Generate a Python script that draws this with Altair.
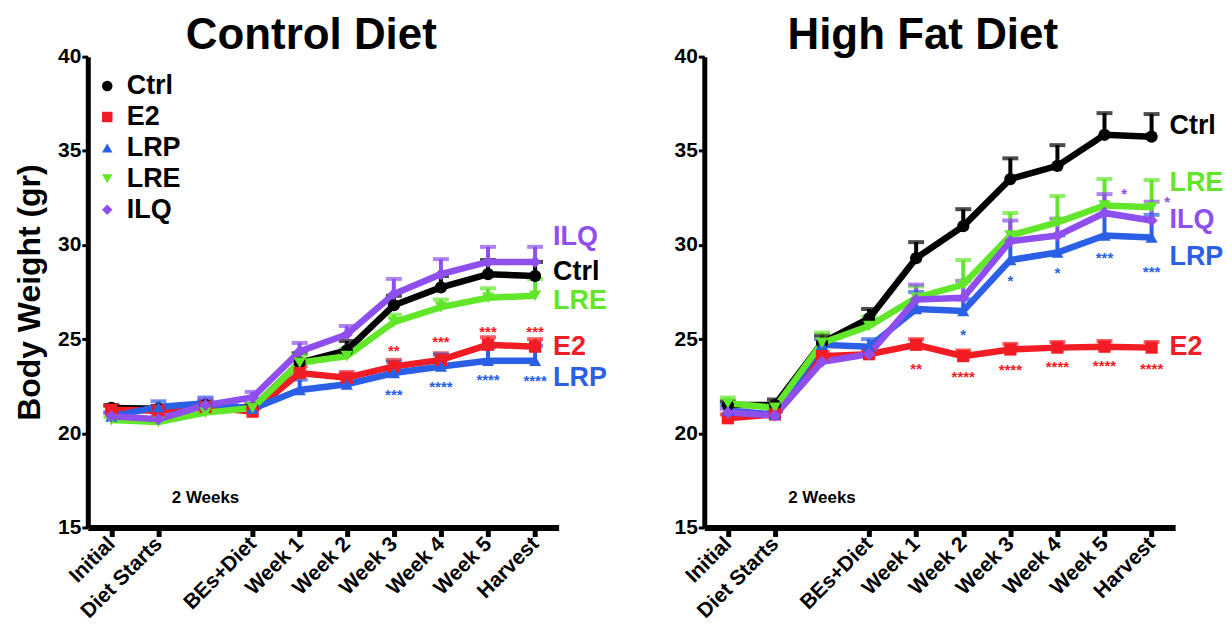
import altair as alt
import pandas as pd

FONT = "Liberation Sans"

series = ["Ctrl", "E2", "LRP", "LRE", "ILQ"]
colors = ["#000000", "#F21D24", "#2B60E6", "#62E62A", "#8E4FEE"]
shapes = ["circle", "square", "triangle-up", "triangle-down", "diamond"]

x_pos = [0, 1, 2, 3, 4, 5, 6, 7, 8, 9]
tick_pos = [0, 1, 3, 4, 5, 6, 7, 8, 9]
tick_labels = ["Initial", "Diet Starts", "BEs+Diet", "Week 1", "Week 2",
               "Week 3", "Week 4", "Week 5", "Harvest"]
y_ticks = [15, 20, 25, 30, 35, 40]

# ---- Control Diet: means and SEM (upper error bar only)
cd_ctrl = [21.35, 21.3, 21.5, 21.35, 23.75, 24.4, 26.8, 27.75, 28.45, 28.35]
cd_e2 = [21.25, 21.2, 21.4, 21.15, 23.2, 22.95, 23.55, 23.9, 24.7, 24.6]
cd_lrp = [20.9, 21.4, 21.6, 21.3, 22.3, 22.6, 23.2, 23.55, 23.85, 23.85]
cd_lre = [20.7, 20.6, 21.1, 21.35, 23.75, 24.1, 25.9, 26.7, 27.2, 27.3]
cd_ilq = [20.9, 20.75, 21.5, 21.9, 24.35, 25.25, 27.4, 28.45, 29.1, 29.1]

cd_ctrl_sem = [0.15, 0.15, 0.2, 0.2, 0.5, 0.5, 0.5, 0.6, 0.75, 0.75]
cd_e2_sem = [0.2, 0.2, 0.2, 0.2, 0.35, 0.3, 0.35, 0.35, 0.4, 0.4]
cd_lrp_sem = [0.2, 0.3, 0.3, 0.2, 0.55, 0.5, 0.6, 0.63, 0.72, 0.8]
cd_lre_sem = [0.15, 0.15, 0.2, 0.2, 0.4, 0.4, 0.4, 0.4, 0.5, 0.9]
cd_ilq_sem = [0.2, 0.2, 0.3, 0.3, 0.45, 0.45, 0.8, 0.8, 0.8, 0.8]

# ---- High Fat Diet
hf_ctrl = [21.5, 21.5, 24.8, 26.1, 29.3, 31.0, 33.5, 34.2, 35.85, 35.75]
hf_e2 = [20.8, 21.0, 24.1, 24.2, 24.7, 24.1, 24.45, 24.55, 24.6, 24.55]
hf_lrp = [21.2, 21.0, 24.7, 24.6, 26.6, 26.5, 29.2, 29.6, 30.5, 30.4]
hf_lre = [21.6, 21.35, 24.8, 25.7, 27.2, 27.9, 30.5, 31.2, 32.1, 32.0]
hf_ilq = [21.1, 20.95, 23.8, 24.2, 27.1, 27.2, 30.2, 30.5, 31.7, 31.3]

hf_ctrl_sem = [0.2, 0.3, 0.4, 0.5, 0.85, 0.9, 1.1, 1.1, 1.15, 1.2]
hf_e2_sem = [0.2, 0.2, 0.2, 0.2, 0.3, 0.3, 0.3, 0.3, 0.3, 0.3]
hf_lrp_sem = [0.3, 0.2, 0.3, 0.4, 0.9, 0.6, 1.0, 0.9, 1.1, 1.2]
hf_lre_sem = [0.3, 0.2, 0.55, 0.5, 0.6, 1.3, 1.2, 1.4, 1.4, 1.45]
hf_ilq_sem = [0.2, 0.2, 0.3, 0.3, 0.8, 0.9, 1.1, 0.9, 1.0, 1.0]

# ---- significance stars
cd_star_x = [6, 7, 8, 9, 6, 7, 8, 9]
cd_star_y = [24.6, 25.08, 25.6, 25.6, 22.23, 22.68, 23.05, 23.0]
cd_star_text = ["**", "***", "***", "***", "***", "****", "****", "****"]
cd_star_series = ["E2"] * 4 + ["LRP"] * 4

hf_star_x = [4, 5, 6, 7, 8, 9, 5, 6, 7, 8, 9, 8.42, 9.33]
hf_star_y = [23.65, 23.2, 23.55, 23.75, 23.8, 23.65, 25.45, 28.3, 28.7, 29.5, 28.8, 32.9, 32.5]
hf_star_text = ["**", "****", "****", "****", "****", "****", "*", "*", "*", "***", "***", "*", "*"]
hf_star_series = ["E2"] * 6 + ["LRP"] * 5 + ["ILQ"] * 2

# ---- series labels at the right end
cd_lab_series = ["ILQ", "Ctrl", "LRE", "E2", "LRP"]
cd_lab_y = [30.4, 28.55, 27.05, 24.6, 22.96]
hf_lab_series = ["Ctrl", "LRE", "ILQ", "LRP", "E2"]
hf_lab_y = [36.3, 33.27, 31.3, 29.35, 24.6]
lab_x = 9.38

note_text = "2 Weeks"
note_x = 2
note_y = 16.55

color_of = dict(zip(series, colors))
label_map = "{" + ", ".join(f"'{p}': '{l}'" for p, l in zip(tick_pos, tick_labels)) + "}[datum.value]"


def panel(title, means, sems, star_x, star_y, star_text, star_series,
          lab_series, lab_y, show_legend, ytitle, title_dx):
    rows = []
    for s, ms, es in zip(series, means, sems):
        for x, m, e in zip(x_pos, ms, es):
            rows.append({"series": s, "x": x, "mean": m, "top": round(m + e, 3)})
    df = pd.DataFrame(rows)

    xscale = alt.Scale(domain=[-0.5, 9.5], nice=False, zero=False)
    yscale = alt.Scale(domain=[15, 40], nice=False, zero=False)
    cscale = alt.Scale(domain=series, range=colors)
    sscale = alt.Scale(domain=series, range=shapes)

    xaxis = alt.Axis(values=tick_pos, labelExpr=label_map, title=None,
                     labelAngle=-45, labelAlign="right", labelBaseline="middle",
                     labelFontSize=21, labelFontWeight="bold",
                     labelPadding=4, tickSize=9, tickWidth=5, domainWidth=6,
                     labelOverlap=False, labelFlush=False)
    yaxis_kw = dict(values=y_ticks, labelFontSize=21, labelFontWeight="bold",
                    tickSize=6, tickWidth=3, domainWidth=5, labelPadding=1,
                    titleFontSize=32, titleFontWeight="bold", titlePadding=11)
    if ytitle:
        yaxis = alt.Axis(title=ytitle, **yaxis_kw)
    else:
        yaxis = alt.Axis(title=None, **yaxis_kw)

    def X(f="x:Q"):
        return alt.X(f, scale=xscale, axis=xaxis)

    def Y(f):
        return alt.Y(f, scale=yscale, axis=yaxis)

    if show_legend:
        leg = alt.Legend(orient="none", legendX=6, legendY=16, title=None,
                         labelFontSize=27, labelFontWeight="bold", labelFont=FONT,
                         symbolSize=110, rowPadding=3, padding=0, labelOffset=6,
                         symbolStrokeWidth=0, symbolOpacity=1)
        col = alt.Color("series:N", scale=cscale, legend=leg)
        shp = alt.Shape("series:N", scale=sscale, legend=leg)
    else:
        col = alt.Color("series:N", scale=cscale, legend=None)
        shp = alt.Shape("series:N", scale=sscale, legend=None)

    base = alt.Chart(df)
    points = base.mark_point(filled=True, size=150, opacity=1).encode(
        x=X(), y=Y("mean:Q"), color=col, shape=shp)
    rules = base.mark_rule(strokeWidth=4).encode(x=X(), y=Y("mean:Q"), y2="top:Q", color=col)
    caps = base.mark_tick(orient="horizontal", size=16, thickness=4).encode(
        x=X(), y=Y("top:Q"), color=col)
    lines = base.mark_line(strokeWidth=6.5).encode(x=X(), y=Y("mean:Q"), color=col)

    stars_df = pd.DataFrame({"x": star_x, "y": star_y, "t": star_text,
                             "c": [color_of[s] for s in star_series]})
    stars = alt.Chart(stars_df).mark_text(fontSize=15, fontWeight="bold", font=FONT,
                                          baseline="middle", dy=4).encode(
        x=X(), y=Y("y:Q"), text="t:N", color=alt.Color("c:N", scale=None))

    labs_df = pd.DataFrame({"x": [lab_x] * len(lab_series), "y": lab_y, "t": lab_series,
                            "c": [color_of[s] for s in lab_series]})
    labs = alt.Chart(labs_df).mark_text(fontSize=27, fontWeight="bold", font=FONT,
                                        align="left", baseline="middle").encode(
        x=X(), y=Y("y:Q"), text="t:N", color=alt.Color("c:N", scale=None))

    note_df = pd.DataFrame({"x": [note_x], "y": [note_y], "t": [note_text]})
    note = alt.Chart(note_df).mark_text(fontSize=17, fontWeight="bold", font=FONT,
                                        align="center", baseline="middle", color="black").encode(
        x=X(), y=Y("y:Q"), text="t:N")

    return alt.layer(rules, caps, lines, points, stars, labs, note).properties(
        width=472, height=472,
        title=alt.TitleParams(title, fontSize=44, fontWeight="bold", font=FONT,
                              anchor="middle", dx=title_dx, offset=-12, color="black"))


left = panel("Control Diet", [cd_ctrl, cd_e2, cd_lrp, cd_lre, cd_ilq],
             [cd_ctrl_sem, cd_e2_sem, cd_lrp_sem, cd_lre_sem, cd_ilq_sem],
             cd_star_x, cd_star_y, cd_star_text, cd_star_series,
             cd_lab_series, cd_lab_y, True, "Body Weight (gr)", -12)
right = panel("High Fat Diet", [hf_ctrl, hf_e2, hf_lrp, hf_lre, hf_ilq],
              [hf_ctrl_sem, hf_e2_sem, hf_lrp_sem, hf_lre_sem, hf_ilq_sem],
              hf_star_x, hf_star_y, hf_star_text, hf_star_series,
              hf_lab_series, hf_lab_y, False, None, -17)

chart = alt.hconcat(left, right, spacing=146, bounds="flush").resolve_scale(
    color="independent", shape="independent"
).properties(
    padding={"left": 5, "top": 5, "right": 0, "bottom": 0}
).configure_view(strokeWidth=0).configure_axis(
    grid=False, domainColor="black", tickColor="black", labelColor="black",
    titleColor="black", labelFont=FONT, titleFont=FONT
)

chart.save("out.html", embed_options={"renderer": "svg", "actions": False})
